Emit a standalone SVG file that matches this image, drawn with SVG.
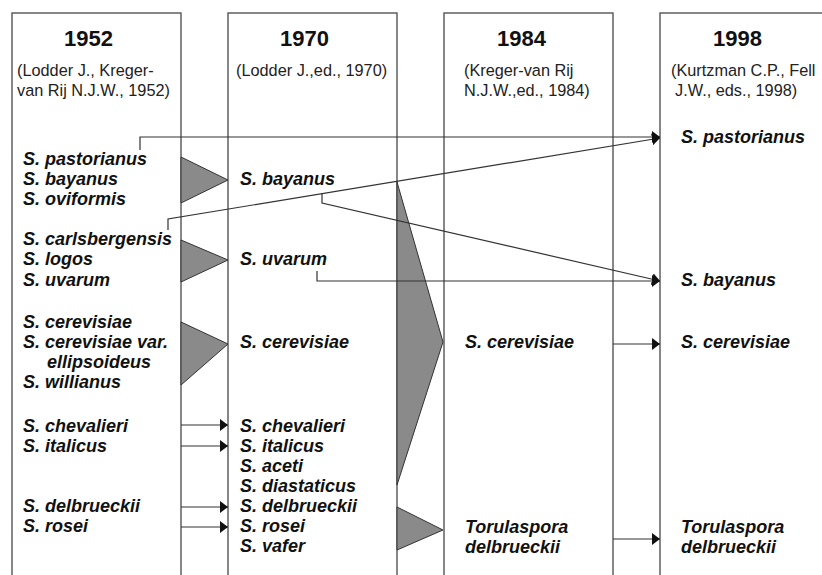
<svg xmlns="http://www.w3.org/2000/svg" width="822" height="575" viewBox="0 0 822 575">
<defs>
<style>
.box{fill:#fff;stroke:#555;stroke-width:1.4}
.yr{font-family:"Liberation Sans",Arial,sans-serif;font-weight:bold;font-size:22px;fill:#111}
.ref{font-family:"Liberation Sans",Arial,sans-serif;font-size:16.3px;fill:#222}
.sp{font-family:"Liberation Sans",Arial,sans-serif;font-weight:bold;font-style:italic;font-size:18px;fill:#111}
.tri{fill:#8a8a8a;stroke:#333;stroke-width:1}
.ln{fill:none;stroke:#333;stroke-width:1.2}
.ar{fill:none;stroke:#333;stroke-width:1.2;marker-end:url(#ah)}
</style>
<marker id="ah" markerUnits="userSpaceOnUse" markerWidth="8" markerHeight="12" refX="8" refY="6" orient="auto">
<path d="M0,0 L8,6 L0,12 z" fill="#111"/>
</marker>
</defs>
<rect width="822" height="575" fill="#fff"/>

<g id="col1952">
<rect class="box" x="12" y="13" width="169" height="600"/>
<text class="yr" x="64" y="46">1952</text>
<text class="ref" x="17" y="76">(Lodder J., Kreger-</text>
<text class="ref" x="17" y="96">van Rij N.J.W., 1952)</text>
<text class="sp" x="23" y="165">S. pastorianus</text>
<text class="sp" x="23" y="185">S. bayanus</text>
<text class="sp" x="23" y="205">S. oviformis</text>
<text class="sp" x="23" y="245">S. carlsbergensis</text>
<text class="sp" x="23" y="265">S. logos</text>
<text class="sp" x="23" y="286">S. uvarum</text>
<text class="sp" x="23" y="328">S. cerevisiae</text>
<text class="sp" x="23" y="348">S. cerevisiae var.</text>
<text class="sp" x="47" y="368">ellipsoideus</text>
<text class="sp" x="23" y="388">S. willianus</text>
<text class="sp" x="23" y="432">S. chevalieri</text>
<text class="sp" x="23" y="452">S. italicus</text>
<text class="sp" x="23" y="512">S. delbrueckii</text>
<text class="sp" x="23" y="532">S. rosei</text>
</g>

<g id="col1970">
<rect class="box" x="228" y="13" width="169" height="600"/>
<text class="yr" x="280" y="46">1970</text>
<text class="ref" x="236" y="76">(Lodder J.,ed., 1970)</text>
<text class="sp" x="240" y="185">S. bayanus</text>
<text class="sp" x="240" y="265">S. uvarum</text>
<text class="sp" x="240" y="348">S. cerevisiae</text>
<text class="sp" x="240" y="432">S. chevalieri</text>
<text class="sp" x="240" y="452">S. italicus</text>
<text class="sp" x="240" y="472">S. aceti</text>
<text class="sp" x="240" y="492">S. diastaticus</text>
<text class="sp" x="240" y="512">S. delbrueckii</text>
<text class="sp" x="240" y="532">S. rosei</text>
<text class="sp" x="240" y="552">S. vafer</text>
</g>

<g id="col1984">
<rect class="box" x="444" y="13" width="169" height="600"/>
<text class="yr" x="497" y="46">1984</text>
<text class="ref" x="464" y="76">(Kreger-van Rij</text>
<text class="ref" x="464" y="96">N.J.W.,ed., 1984)</text>
<text class="sp" x="465" y="348">S. cerevisiae</text>
<text class="sp" x="465" y="533">Torulaspora</text>
<text class="sp" x="465" y="553">delbrueckii</text>
</g>

<g id="col1998">
<rect class="box" x="660" y="13" width="220" height="600"/>
<text class="yr" x="713" y="46">1998</text>
<text class="ref" x="671" y="76">(Kurtzman C.P., Fell</text>
<text class="ref" x="675" y="96">J.W., eds., 1998)</text>
<text class="sp" x="681" y="143">S. pastorianus</text>
<text class="sp" x="681" y="286">S. bayanus</text>
<text class="sp" x="681" y="348">S. cerevisiae</text>
<text class="sp" x="681" y="533">Torulaspora</text>
<text class="sp" x="681" y="553">delbrueckii</text>
</g>

<g id="mergers">
<polygon class="tri" points="181,157 228,180 181,203"/>
<polygon class="tri" points="181,240 228,260 181,282"/>
<polygon class="tri" points="181,322 228,344 181,385"/>
<polygon class="tri" points="397,182 443,342 397,485"/>
<polygon class="tri" points="397,507 443,530 397,550"/>
</g>

<g id="connectors">
<polyline class="ar" points="140,150 140,137 660,137"/>
<polyline class="ar" points="168,230 168,219 660,138"/>
<polyline class="ar" points="322,193 322,203 660,281"/>
<polyline class="ar" points="317,271 317,281 660,281"/>
<line class="ar" x1="613" y1="344" x2="660" y2="344"/>
<line class="ar" x1="613" y1="539" x2="660" y2="539"/>
<line class="ar" x1="181" y1="425" x2="228" y2="425"/>
<line class="ar" x1="181" y1="446" x2="228" y2="446"/>
<line class="ar" x1="181" y1="507" x2="228" y2="507"/>
<line class="ar" x1="181" y1="527" x2="228" y2="527"/>
</g>
</svg>
